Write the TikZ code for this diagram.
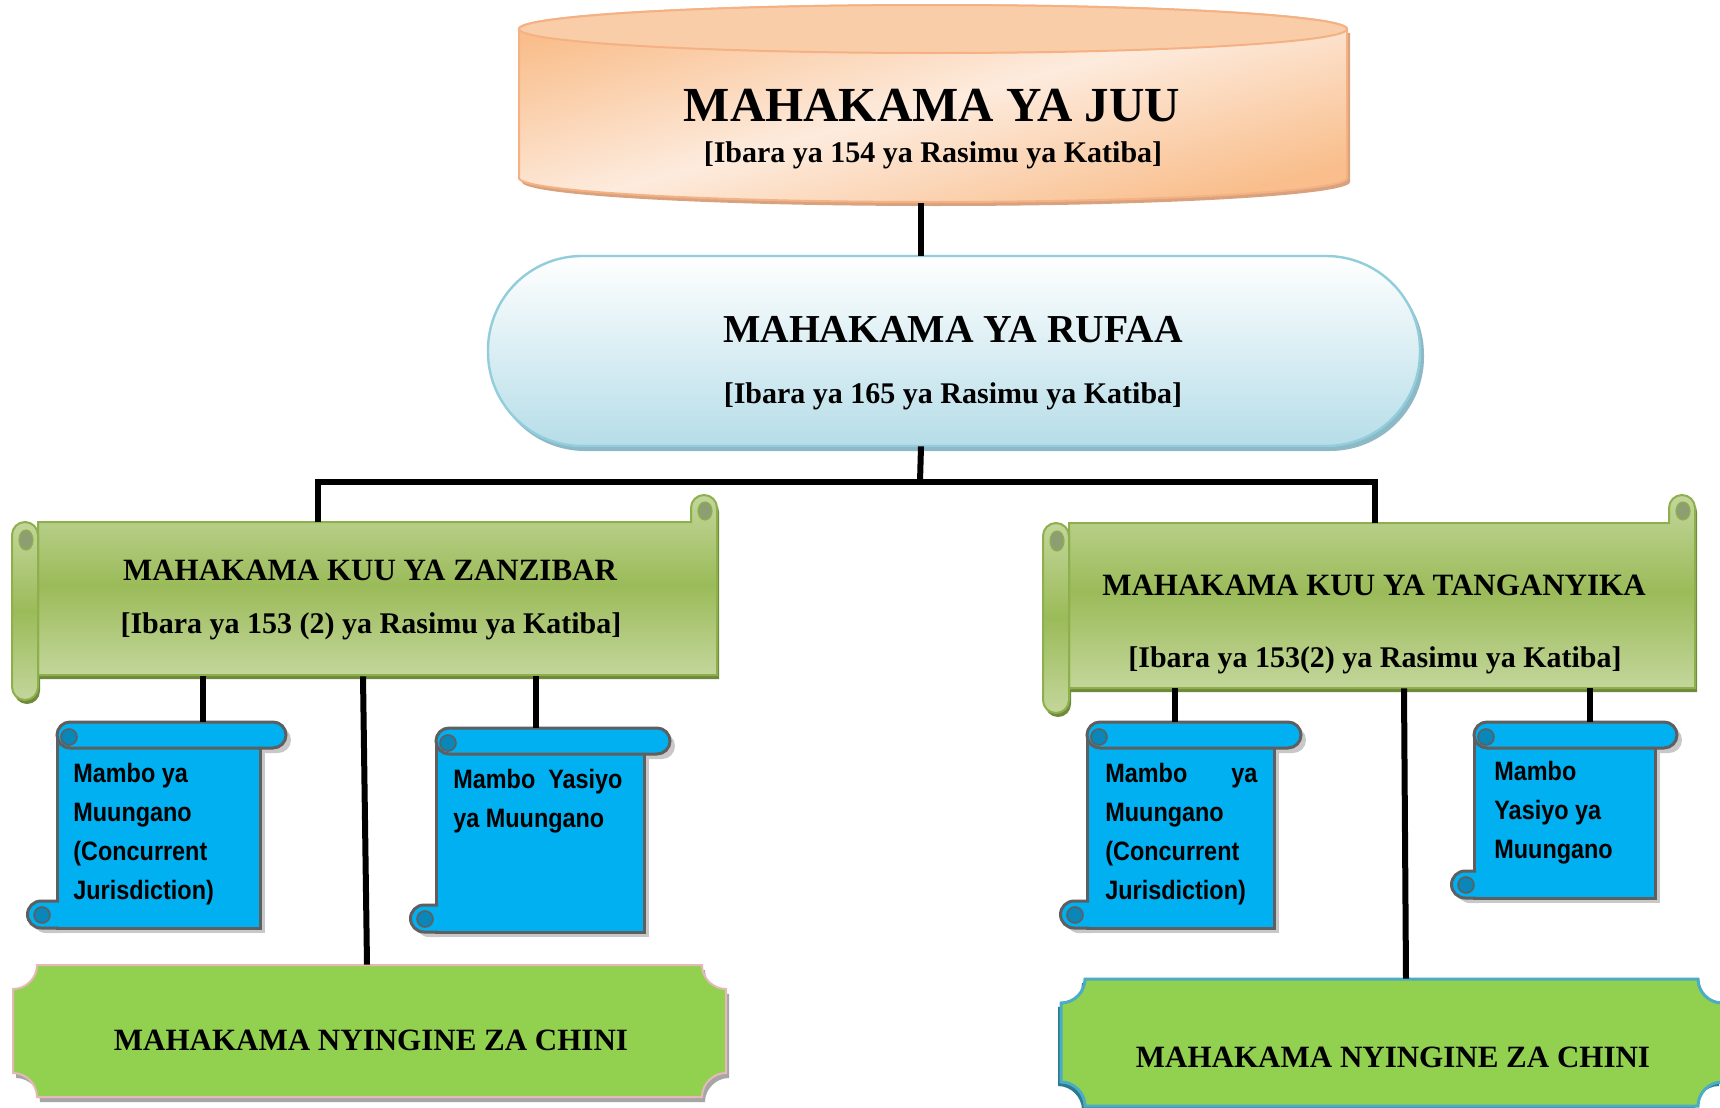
\documentclass[tikz,border=0pt]{standalone}
\usepackage{fontspec}
\setmainfont{Liberation Serif}
\newfontfamily\narrowsans[FakeStretch=0.88]{Liberation Sans}
\usetikzlibrary{fit,calc}
\definecolor{peachD}{HTML}{F9BE8C}
\definecolor{peachL}{HTML}{FDEBDD}
\definecolor{peachTop}{HTML}{F9CDA8}
\definecolor{peachLine}{HTML}{F4B183}
\definecolor{peachShadow}{HTML}{D9A27E}
\definecolor{pillBot}{HTML}{B6DDE8}
\definecolor{pillLine}{HTML}{92CDDC}
\definecolor{pillShadow}{HTML}{8DB8C6}
\definecolor{grnL}{HTML}{C3D69B}
\definecolor{grnM}{HTML}{9BBB59}
\definecolor{grnLine}{HTML}{8DB04C}
\definecolor{grnShadow}{HTML}{6F8A3A}
\definecolor{grnCurl}{HTML}{8E9E73}
\definecolor{blu}{HTML}{00B0F0}
\definecolor{bluCurl}{HTML}{0A86B8}
\definecolor{bluLine}{HTML}{5F5F5F}
\definecolor{bshadow}{HTML}{C8C8C8}
\definecolor{lime}{HTML}{92D050}
\definecolor{pinkLine}{HTML}{E6B9B8}
\definecolor{greyShadow}{HTML}{A6A6A6}
\definecolor{tealLine}{HTML}{4BACC6}
\definecolor{tealShadow}{HTML}{2C7A90}
\tikzset{
  conn/.style={line width=3pt, black},
  area/.style={inner sep=0pt},
  serifbig/.style={font=\bfseries\fontsize{24.5}{28}\selectfont, anchor=base, inner sep=0pt},
  serifmid/.style={font=\bfseries\fontsize{19.8}{23}\selectfont, anchor=base, inner sep=0pt},
  serifhead/.style={font=\bfseries\fontsize{15.5}{18}\selectfont, anchor=base, inner sep=0pt},
  serifsub/.style={font=\bfseries\fontsize{15}{18}\selectfont, anchor=base, inner sep=0pt},
  scrolltext/.style={font=\narrowsans\bfseries\fontsize{13.3}{19.5}\selectfont, anchor=north west, inner sep=0pt, align=left},
}
% horizontal (green) scroll: x0, x1, y0 (curl top), yT (body top), yB (body bottom), y1 (left strip bottom)
\newcommand\hscroll[6]{%
  \begin{scope}[shift={(2,4)}]
    \fill[grnShadow] ({#1+26},#4) -- ({#2-26},#4) -- ({#2-26},{#3+13}) arc[start angle=180,end angle=360,radius=13] -- (#2,#5) -- ({#1+26},#5) -- cycle;
    \fill[grnShadow] (#1,{#4+13}) arc[start angle=180,end angle=360,radius=13] -- ({#1+26},{#6-13}) arc[start angle=0,end angle=180,radius=13] -- cycle;
  \end{scope}
  \filldraw[top color=grnL, bottom color=grnL, middle color=grnM, draw=grnLine, line width=1pt]
    ({#1+26},#4) -- ({#2-26},#4) -- ({#2-26},{#3+13}) arc[start angle=180,end angle=360,radius=13] -- (#2,#5) -- ({#1+26},#5) -- cycle;
  \filldraw[top color=grnL, bottom color=grnL, middle color=grnM, draw=grnLine, line width=1pt]
    (#1,{#4+13}) arc[start angle=180,end angle=360,radius=13] -- ({#1+26},{#6-13}) arc[start angle=0,end angle=180,radius=13] -- cycle;
  \filldraw[fill=grnCurl, draw=grnLine, line width=0.6pt] ({#1+14},{#4+18}) ellipse [x radius=7, y radius=10];
  \filldraw[fill=grnCurl, draw=grnLine, line width=0.6pt] ({#2-12},{#3+16}) ellipse [x radius=7, y radius=9];
}
% vertical (blue) scroll: x0 (curl left), xb (body left), xr (body right), x1 (roll right), y0 (roll top), y1 (body bottom)
\newcommand\vscroll[6]{%
  \begin{scope}[shift={(5,5)}]
    \fill[bshadow] (#2,{#5+13}) rectangle (#3,#6);
    \fill[bshadow, rounded corners=6.5pt] (#2,#5) rectangle (#4,{#5+26});
    \fill[bshadow] (#2,{#6-27}) -- ({#1+13},{#6-27}) arc[start angle=270,end angle=90,radius=13.5] -- (#2,#6) -- cycle;
  \end{scope}
  \filldraw[fill=blu, draw=bluLine, line width=1.5pt] (#2,{#5+13}) rectangle (#3,#6);
  \filldraw[fill=blu, draw=bluLine, line width=1.5pt, rounded corners=6.5pt] (#2,#5) rectangle (#4,{#5+26});
  \filldraw[fill=bluCurl, draw=bluLine, line width=0.8pt] ({#2+12},{#5+15}) circle[radius=8];
  \filldraw[fill=blu, draw=bluLine, line width=1.5pt] ({#2+2},{#6-27}) -- ({#1+13},{#6-27}) arc[start angle=270,end angle=90,radius=13.5] -- ({#2+2},#6);
  \filldraw[fill=bluCurl, draw=bluLine, line width=0.8pt] ({#1+14},{#6-13}) circle[radius=8];
}
% plaque box: style, x0, y0, x1, y1
\newcommand\plaque[5]{%
  \path[#1] ({#2+24},#3) -- ({#4-24},#3) .. controls ({#4-24},{#3+13}) and ({#4-13},{#3+24}) .. (#4,{#3+24})
    -- (#4,{#5-24}) .. controls ({#4-13},{#5-24}) and ({#4-24},{#5-13}) .. ({#4-24},#5)
    -- ({#2+24},#5) .. controls ({#2+24},{#5-13}) and ({#2+13},{#5-24}) .. (#2,{#5-24})
    -- (#2,{#3+24}) .. controls ({#2+13},{#3+24}) and ({#2+24},{#3+13}) .. ({#2+24},#3) -- cycle;
}
\begin{document}
\begin{tikzpicture}[x=0.5pt,y=-0.5pt]
\useasboundingbox (0,0) rectangle (1720,1108);
\fill[white] (0,0) rectangle (1720,1108);

% ---- cylinder (Mahakama ya Juu)
\fill[peachShadow] (522,33) -- (522,182) arc[start angle=180,end angle=0,x radius=414,y radius=24] -- (1350,33) -- cycle;
\filldraw[left color=peachD, right color=peachD, middle color=peachL, shading angle=15, draw=peachLine, line width=1pt]
  (519,29) -- (519,178) arc[start angle=180,end angle=0,x radius=414,y radius=24] -- (1347,29) arc[start angle=0,end angle=-180,x radius=414,y radius=24] -- cycle;
\filldraw[fill=peachTop, draw=peachLine, line width=1pt] (933,29) ellipse [x radius=414, y radius=24];
\node[area, fit={(519,5) (1347,203)}] (juu) {};

% ---- pill (Mahakama ya Rufaa)
\fill[pillShadow, rounded corners=47pt] (491,261) rectangle (1424,451);
\draw[top color=white, bottom color=pillBot, draw=pillLine, line width=1.2pt, rounded corners=47pt] (488,256) rectangle (1420,446);
\node[area, fit={(488,256) (1420,446)}] (rufaa) {};

% ---- green scrolls
\hscroll{12}{717}{495}{522}{675}{700}
\node[area, fit={(12,522) (717,676)}] (zb) {};
\hscroll{1043}{1695}{495}{523}{688}{713}
\node[area, fit={(1043,523) (1695,688)}] (tg) {};

% ---- blue scrolls
\vscroll{28}{57}{260}{286}{722}{928}
\node[area, fit={(28,722) (286,930)}] (s1) {};
\vscroll{411}{436}{644}{670}{728}{932}
\node[area, fit={(411,728) (670,932)}] (s2) {};
\vscroll{1061}{1087}{1274}{1301}{722}{928}
\node[area, fit={(1061,722) (1301,930)}] (s3) {};
\vscroll{1452}{1474}{1655}{1677}{722}{898}
\node[area, fit={(1452,722) (1677,898)}] (s4) {};

% ---- lower courts
\plaque{fill=greyShadow, shift={(3,5)}}{13}{965}{726}{1097}
\plaque{fill=lime, draw=pinkLine, line width=1pt}{13}{965}{726}{1097}
\node[area, fit={(13,965) (726,1097)}] (c1) {};
\plaque{fill=tealShadow, shift={(-3,4)}}{1061}{979}{1722}{1106}
\plaque{fill=lime, draw=tealLine, line width=1.5pt}{1061}{979}{1722}{1106}
\node[area, fit={(1061,979) (1722,1106)}] (c2) {};

% ---- connector positions
\coordinate (xtop) at (921,0);
\coordinate (barL) at (318,482);
\coordinate (barM) at (920,482);
\coordinate (barR) at (1375,482);
\coordinate (xa) at (203,0);
\coordinate (xb) at (536,0);
\coordinate (xm1) at (363,0);
\coordinate (xm2) at (367,0);
\coordinate (xc) at (1175,0);
\coordinate (xd) at (1590,0);
\coordinate (xn1) at (1404,0);
\coordinate (xn2) at (1406,0);

% ---- connectors
\draw[conn] (juu.south -| xtop) -- (rufaa.north -| xtop);
\draw[conn] (rufaa.south -| xtop) -- (barM);
\draw[conn] (zb.north -| barL) -- (barL) -- (barR) -- (tg.north -| barR);
\draw[conn] (zb.south -| xa) -- (s1.north -| xa);
\draw[conn] (zb.south -| xb) -- (s2.north -| xb);
\draw[conn] (zb.south -| xm1) -- (c1.north -| xm2);
\draw[conn] (tg.south -| xc) -- (s3.north -| xc);
\draw[conn] (tg.south -| xd) -- (s4.north -| xd);
\draw[conn] (tg.south -| xn1) -- (c2.north -| xn2);

% ---- texts
\node[serifbig] (juuT) at (932,121) {MAHAKAMA YA JUU};
\node[serifsub] (juuS) at (933,162) {[Ibara ya 154 ya Rasimu ya Katiba]};
\node[serifmid] (rufT) at (953,342) {MAHAKAMA YA RUFAA};
\node[serifsub] (rufS) at (953,403) {[Ibara ya 165 ya Rasimu ya Katiba]};
\node[serifhead] (zbT) at (370,580) {MAHAKAMA KUU YA ZANZIBAR};
\node[serifsub] (zbS) at (371,633) {[Ibara ya 153 (2) ya Rasimu ya Katiba]};
\node[serifhead] (tgT) at (1374,595) {MAHAKAMA KUU YA TANGANYIKA};
\node[serifsub] (tgS) at (1375,667) {[Ibara ya 153(2) ya Rasimu ya Katiba]};
\node[serifhead] (c1T) at (371,1050) {MAHAKAMA NYINGINE ZA CHINI};
\node[serifhead] (c2T) at (1393,1067) {MAHAKAMA NYINGINE ZA CHINI};

\node[scrolltext] (s1T) at (73,763) {Mambo ya\\Muungano\\(Concurrent\\Jurisdiction)};
\node[scrolltext] (s2T) at (453,769) {Mambo~ Yasiyo\\ya Muungano};
\node[scrolltext] (s3T) at (1105,763) {\makebox[76pt][l]{Mambo\hfill ya}\\Muungano\\(Concurrent\\Jurisdiction)};
\node[scrolltext] (s4T) at (1494,761) {Mambo\\Yasiyo ya\\Muungano};
\end{tikzpicture}
\end{document}
